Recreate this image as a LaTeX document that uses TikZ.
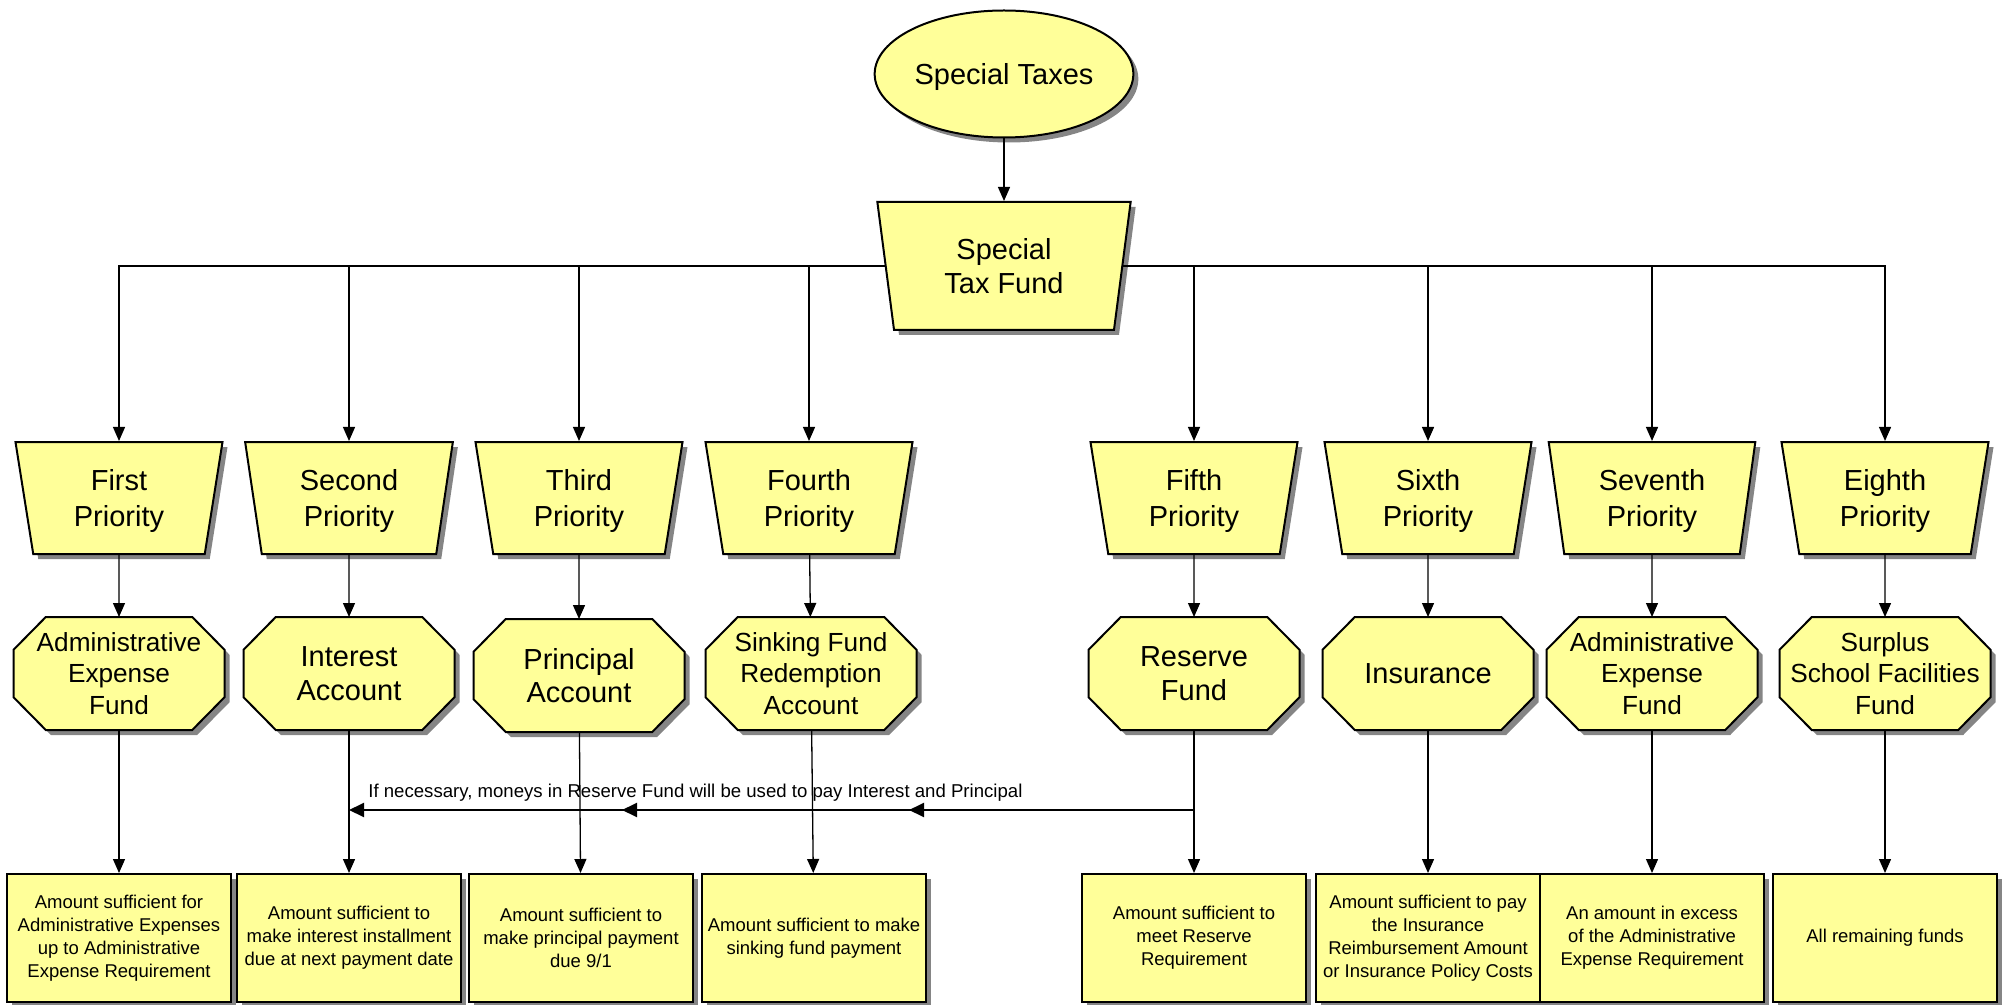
\documentclass[tikz,border=0pt]{standalone}
\usepackage{fontspec}
\setmainfont{Liberation Sans}
\usepackage{tikz}
\usetikzlibrary{shapes.geometric,shadows,positioning,arrows.meta,decorations.markings}

\definecolor{fundyellow}{HTML}{FFFF99}

% octagon with flat top and vertical sides
\makeatletter
\pgfdeclareshape{octabox}{%
  \inheritsavedanchors[from=rectangle]%
  \inheritanchorborder[from=rectangle]%
  \inheritanchor[from=rectangle]{center}%
  \inheritanchor[from=rectangle]{north}%
  \inheritanchor[from=rectangle]{south}%
  \inheritanchor[from=rectangle]{east}%
  \inheritanchor[from=rectangle]{west}%
  \backgroundpath{%
    \southwest \pgf@xa=\pgf@x \pgf@ya=\pgf@y
    \northeast \pgf@xb=\pgf@x \pgf@yb=\pgf@y
    \pgf@xc=\pgf@xb \advance\pgf@xc by -\pgf@xa \pgf@xc=0.153\pgf@xc
    \pgf@yc=\pgf@yb \advance\pgf@yc by -\pgf@ya \pgf@yc=0.29\pgf@yc
    \edef\oct@l{\the\pgf@xa}\edef\oct@r{\the\pgf@xb}%
    \edef\oct@b{\the\pgf@ya}\edef\oct@t{\the\pgf@yb}%
    \edef\oct@dx{\the\pgf@xc}\edef\oct@dy{\the\pgf@yc}%
    \pgfpathmoveto{\pgfpoint{\oct@l+\oct@dx}{\oct@t}}%
    \pgfpathlineto{\pgfpoint{\oct@r-\oct@dx}{\oct@t}}%
    \pgfpathlineto{\pgfpoint{\oct@r}{\oct@t-\oct@dy}}%
    \pgfpathlineto{\pgfpoint{\oct@r}{\oct@b+\oct@dy}}%
    \pgfpathlineto{\pgfpoint{\oct@r-\oct@dx}{\oct@b}}%
    \pgfpathlineto{\pgfpoint{\oct@l+\oct@dx}{\oct@b}}%
    \pgfpathlineto{\pgfpoint{\oct@l}{\oct@b+\oct@dy}}%
    \pgfpathlineto{\pgfpoint{\oct@l}{\oct@t-\oct@dy}}%
    \pgfpathclose
  }%
}
\makeatother

\begin{document}
\begin{tikzpicture}[x=0.5pt, y=-0.5pt,
    boxbase/.style={draw, line width=1pt, fill=fundyellow, align=center, inner sep=1pt,
        drop shadow={shadow xshift=2.5pt, shadow yshift=-2.5pt, fill=black!48, opacity=1}},
    source/.style={boxbase, ellipse, minimum width=128pt, minimum height=63.5pt,
        text depth=-1pt, font=\fontsize{14.5}{17}\selectfont},
    tray/.style={boxbase, trapezium, shape border rotate=180, trapezium stretches=true,
        trapezium angle=81, minimum width=104pt, minimum height=56pt,
        text depth=-1.5pt, font=\fontsize{14.5}{18.3}\selectfont},
    acct/.style={boxbase, octabox, minimum width=104.5pt, minimum height=55.5pt,
        font=\fontsize{14.5}{16.7}\selectfont},
    acctsmall/.style={acct, font=\fontsize{13.1}{15.8}\selectfont},
    amount/.style={boxbase, rectangle, minimum width=112pt, minimum height=64pt,
        font=\fontsize{9.25}{11.5}\selectfont},
    link/.style={-{Triangle[length=7pt,width=6pt]}, line width=0.65pt},
    backup/.style={line width=1pt, -{Triangle[length=7.5pt,width=7pt]}},
    note/.style={inner sep=0pt, font=\fontsize{9.3}{11}\selectfont}]

    \useasboundingbox (0,0) rectangle (2007,1005);

    % Source
    \node [source] (taxes) at (1004,74) {Special Taxes};
    \node [tray, minimum width=127.5pt, minimum height=64pt, font=\fontsize{14.5}{17}\selectfont] (fund) at (1004,266) {Special\\Tax Fund};
    \draw [link] (taxes) -- (fund);

    % First priority
    \node [tray] (pri1) at (119,498) {First\\Priority};
    \node [acctsmall, below=31pt of pri1] (acc1) {Administrative\\Expense\\Fund};
    \node [amount, below=71.5pt of acc1] (amt1) {Amount sufficient for\\Administrative Expenses\\up to Administrative\\Expense Requirement};
    \draw [link] (fund) -| (pri1);
    \draw [link] (pri1) -- (acc1);
    \draw [link] (acc1) -- (amt1);

    % Second priority
    \node [tray] (pri2) at (349,498) {Second\\Priority};
    \node [acct, below=31pt of pri2] (acc2) {Interest\\Account};
    \node [amount, below=71.5pt of acc2] (amt2) {Amount sufficient to\\make interest installment\\due at next payment date};
    \draw [link] (fund) -| (pri2);
    \draw [link] (pri2) -- (acc2);
    \draw [link] (acc2) -- (amt2);

    % Third priority
    \node [tray] (pri3) at (579,498) {Third\\Priority};
    \node [acct, below=32pt of pri3] (acc3) {Principal\\Account};
    \node [amount, below=70.5pt of acc3, xshift=1pt] (amt3) {Amount sufficient to\\make principal payment\\due 9/1};
    \draw [link] (fund) -| (pri3);
    \draw [link] (pri3) -- (acc3);
    \draw [link] (acc3) -- (amt3);

    % Fourth priority
    \node [tray] (pri4) at (809,498) {Fourth\\Priority};
    \node [acctsmall, below=31pt of pri4, xshift=1pt] (acc4) {Sinking Fund\\Redemption\\Account};
    \node [amount, below=71.5pt of acc4, xshift=1.5pt] (amt4) {Amount sufficient to make\\sinking fund payment};
    \draw [link] (fund) -| (pri4);
    \draw [link] (pri4) -- (acc4);
    \draw [link] (acc4) -- (amt4);

    % Fifth priority
    \node [tray] (pri5) at (1194,498) {Fifth\\Priority};
    \node [acct, below=31pt of pri5] (acc5) {Reserve\\Fund};
    \node [amount, below=71.5pt of acc5] (amt5) {Amount sufficient to\\meet Reserve\\Requirement};
    \draw [link] (fund) -| (pri5);
    \draw [link] (pri5) -- (acc5);
    \draw [link] (acc5) -- (amt5);

    % Sixth priority
    \node [tray] (pri6) at (1428,498) {Sixth\\Priority};
    \node [acct, below=31pt of pri6] (acc6) {Insurance};
    \node [amount, below=71.5pt of acc6] (amt6) {Amount sufficient to pay\\the Insurance\\Reimbursement Amount\\or Insurance Policy Costs};
    \draw [link] (fund) -| (pri6);
    \draw [link] (pri6) -- (acc6);
    \draw [link] (acc6) -- (amt6);

    % Seventh priority
    \node [tray] (pri7) at (1652,498) {Seventh\\Priority};
    \node [acctsmall, below=31pt of pri7] (acc7) {Administrative\\Expense\\Fund};
    \node [amount, below=71.5pt of acc7] (amt7) {An amount in excess\\of the Administrative\\Expense Requirement};
    \draw [link] (fund) -| (pri7);
    \draw [link] (pri7) -- (acc7);
    \draw [link] (acc7) -- (amt7);

    % Eighth priority
    \node [tray] (pri8) at (1885,498) {Eighth\\Priority};
    \node [acctsmall, below=31pt of pri8] (acc8) {Surplus\\School Facilities\\Fund};
    \node [amount, below=71.5pt of acc8] (amt8) {All remaining funds};
    \draw [link] (fund) -| (pri8);
    \draw [link] (pri8) -- (acc8);
    \draw [link] (acc8) -- (amt8);

    % Reserve fund backs up interest and principal
    \coordinate (tap5) at (acc5.south |- 0,810);
    \coordinate (tap2) at (acc2.south |- 0,810);
    \draw [backup, postaction={decorate}, decoration={markings,
        mark=at position 142.5pt with {\arrow{Triangle[length=7.5pt,width=7pt]}},
        mark=at position 286pt with {\arrow{Triangle[length=7.5pt,width=7pt]}}}] (tap5) -- (tap2);
    \node [note, anchor=base west] (note) at (368,797) {If necessary, moneys in Reserve Fund will be used to pay Interest and Principal};

\end{tikzpicture}
\end{document}
